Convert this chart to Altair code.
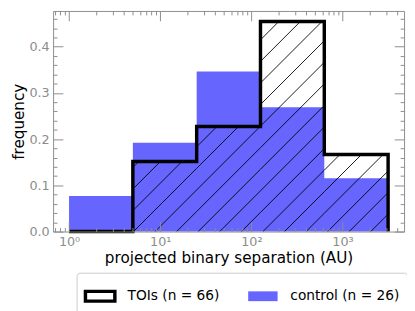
import math
import altair as alt
import pandas as pd

# ---- data ----
bin_edges = [1.0, 5.012, 25.12, 125.9, 631.0, 3162.3]          # AU
toi_freq = [0.0, 0.1515, 0.2273, 0.4545, 0.1667]               # TOIs (n = 66)
ctrl_freq = [0.0769, 0.1923, 0.3462, 0.2692, 0.1154]           # control (n = 26)
groups = ["TOIs (n = 66)", "control (n = 26)"]
x_major = [1, 10, 100, 1000]
x_minor = [0.7, 0.8, 0.9] + [m * 10 ** k for k in range(0, 3) for m in range(2, 10)] + [2000, 3000, 4000]
y_major = [0.0, 0.1, 0.2, 0.3, 0.4]
y_minor = [round(0.02 * i, 2) for i in range(0, 24) if i % 5 != 0]

# ---- layout ----
W, H = 358, 225
XDOM = [10 ** -0.175, 10 ** 3.675]
YDOM = [0.0, 0.4773]
GRAY = "#8c8c8c"
FONT = "DejaVu Sans"
BLUE = "#6666ff"

# control histogram as one step-area (last edge repeats the last height)
ctrl_step = pd.DataFrame({
    "edge": bin_edges, "freq": ctrl_freq + [ctrl_freq[-1]],
    "base": [0.0] * 6, "group": groups[1]})

toi_step = pd.DataFrame({"edge": bin_edges, "freq": toi_freq + [0.0]})

# hatch lines ("/") inside the TOI histogram polygon, derived from the bar data
L0, L1 = math.log10(XDOM[0]), math.log10(XDOM[1])
def px_of(v): return (math.log10(v) - L0) / (L1 - L0) * W
def v_of(p): return 10 ** (L0 + p / W * (L1 - L0))
def u_of(f): return f / YDOM[1] * H
def f_of(u): return u / H * YDOM[1]
SP, C0 = 22.0, 16.0
rows = []
for i, h in enumerate(toi_freq):
    if h <= 0:
        continue
    x0, x1 = px_of(bin_edges[i]), px_of(bin_edges[i + 1])
    top = u_of(h)
    kmin = math.floor((x0 - top - C0) / SP) - 1
    kmax = math.ceil((x1 - C0) / SP) + 1
    for k in range(kmin, kmax + 1):
        c = C0 + k * SP
        a = max(x0, c)
        b = min(x1, c + top)
        if b - a > 0.3:
            rows.append({"xa": v_of(a), "ya": f_of(a - c), "xb": v_of(b), "yb": f_of(b - c)})
hatch = pd.DataFrame(rows)

xs = alt.Scale(type="log", domain=XDOM, nice=False)
ys = alt.Scale(domain=YDOM, nice=False)
fill_scale = alt.Scale(domain=groups, range=["white", BLUE])
stroke_scale = alt.Scale(domain=groups, range=["black", "transparent"])

sup = "['⁰','¹','²','³'][round(log(datum.value)/LN10)]"

def tick_axis(orient, values, size, domain=False):
    return alt.Axis(orient=orient, values=values, tickSize=alt.ExprRef(expr=str(-size)),
                    tickColor=GRAY, tickWidth=1, domain=domain, domainColor=GRAY, domainWidth=1,
                    labels=False, grid=False, title=None, zindex=1)

def label_axis(orient, values, title, **extra):
    return alt.Axis(orient=orient, values=values, ticks=False, tickSize=0, domain=True,
                    domainColor=GRAY, domainWidth=1, grid=False, title=title, zindex=1,
                    labelFlush=False, labelColor=GRAY, labelFont=FONT, labelFontSize=13,
                    labelPadding=4, titleFont=FONT, titleFontSize=15.5, titleColor="black",
                    titleFontWeight="normal", titlePadding=3, **extra)

legend = alt.Legend(
    title=None, orient="none", legendX=24, legendY=267, direction="horizontal",
    symbolType="M-1,-0.333H1V0.333H-1Z", symbolSize=900, symbolStrokeWidth=3.5,
    labelFont=FONT, labelFontSize=14, labelColor="black", labelOffset=11,
    strokeColor="#cccccc", fillColor="white", padding=7, cornerRadius=3, columnPadding=22,
)

ctrl_layer = alt.Chart(ctrl_step).mark_area(interpolate="step-after", strokeWidth=3.5).encode(
    x=alt.X("edge:Q", scale=xs, axis=label_axis("bottom", x_major, "projected binary separation (AU)",
                                                 labelExpr="'10' + " + sup)),
    y=alt.Y("freq:Q", scale=ys, axis=label_axis("left", y_major, "frequency", format=".1f")),
    y2="base:Q",
    fill=alt.Fill("group:N", scale=fill_scale, legend=legend),
    stroke=alt.Stroke("group:N", scale=stroke_scale, legend=legend),
)

hatch_layer = alt.Chart(hatch).mark_rule(color="black", strokeWidth=0.9).encode(
    x=alt.X("xa:Q", scale=xs, axis=tick_axis("bottom", x_major, 10)),
    x2="xb:Q",
    y=alt.Y("ya:Q", scale=ys, axis=tick_axis("left", y_major, 10)),
    y2="yb:Q",
)

outline_layer = alt.Chart(toi_step).mark_line(
    interpolate="step-after", color="black", strokeWidth=3.5, strokeJoin="miter", strokeCap="butt"
).encode(
    x=alt.X("edge:Q", scale=xs, axis=tick_axis("top", x_major, 10, domain=True)),
    y=alt.Y("freq:Q", scale=ys, axis=tick_axis("right", y_major, 10, domain=True)),
)

minor_a = alt.Chart(toi_step).transform_filter("datum.freq < 0").mark_point(opacity=0).encode(
    x=alt.X("edge:Q", scale=xs, axis=tick_axis("bottom", x_minor, 4)),
    y=alt.Y("freq:Q", scale=ys, axis=tick_axis("left", y_minor, 4)),
)

minor_b = alt.Chart(toi_step).transform_filter("datum.freq < 0").mark_point(opacity=0).encode(
    x=alt.X("edge:Q", scale=xs, axis=tick_axis("top", x_minor, 4)),
    y=alt.Y("freq:Q", scale=ys, axis=tick_axis("right", y_minor, 4)),
)

chart = alt.layer(ctrl_layer, hatch_layer, outline_layer, minor_a, minor_b).resolve_axis(
    x="independent", y="independent"
).properties(
    width=W, height=H,
    autosize=alt.AutoSizeParams(type="none"),
    padding={"left": 46, "top": 0, "right": 3, "bottom": 78},
).configure_view(stroke=None)

chart.save("out.html", embed_options={"renderer": "svg", "actions": False})
